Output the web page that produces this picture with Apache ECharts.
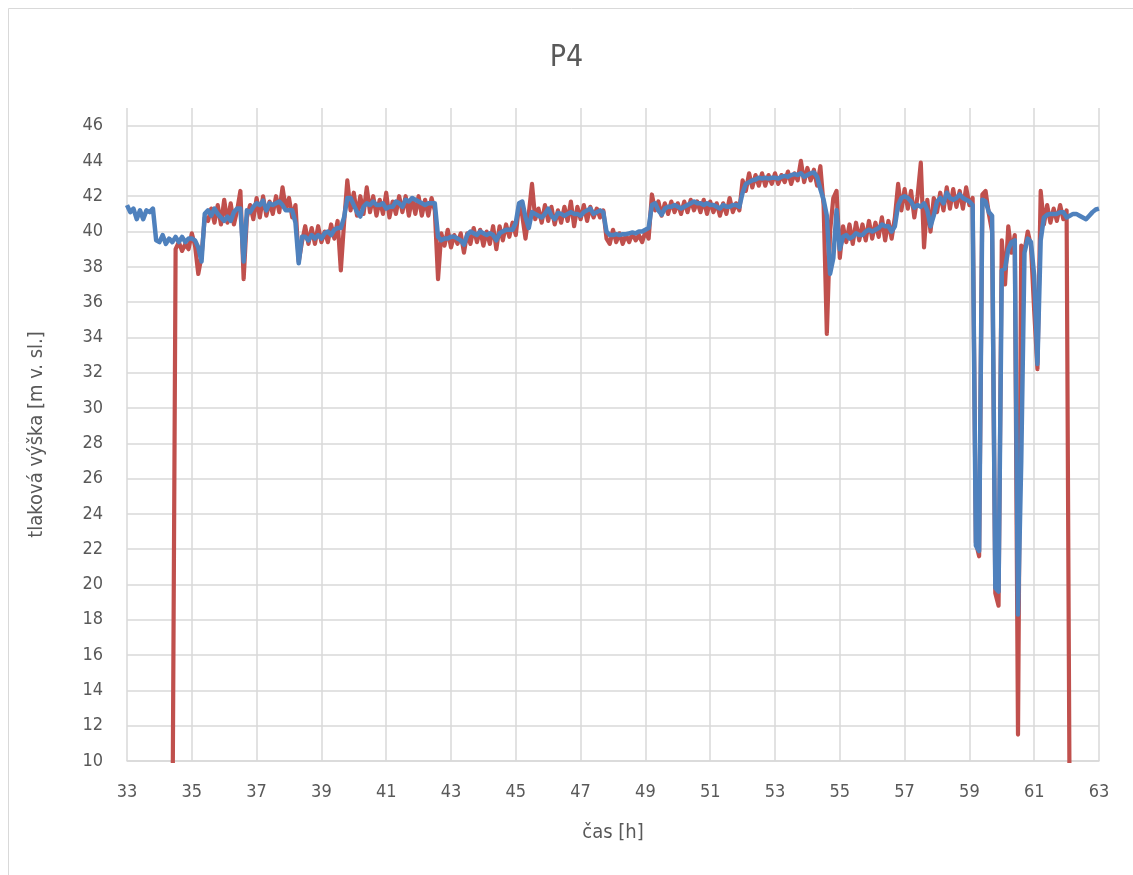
<!DOCTYPE html>
<html><head><meta charset="utf-8">
<script src="https://cdn.jsdelivr.net/npm/echarts@6/dist/echarts.min.js"></script>
<style>html,body{margin:0;padding:0;background:#fff}#c{width:1133px;height:875px}</style>
</head><body><div id="c"></div><script>
const chartTitle = 'P4';
const xAxisName = 'čas [h]';
const yAxisName = 'tlaková výška [m v. sl.]';
const seriesNames = ['měřeno', 'model'];
// sampling: value i belongs to time start + i*0.1 h
const sampleStep = 0.1;
const redStart = 34.4;
const redValues = [
  /*34.4*/ 5, 39.0, 39.4, 38.9, 39.3, 39.0,
  /*35*/ 39.9, 39.2, 37.6, 38.6, 40.8, 40.6, 41.3, 40.5, 41.5, 40.4,
  /*36*/ 41.8, 40.5, 41.6, 40.4, 41.2, 42.3, 37.3, 40.8, 41.5, 40.7,
  /*37*/ 41.9, 40.8, 42.0, 40.9, 41.7, 41.0, 42.0, 41.1, 42.5, 41.3,
  /*38*/ 41.9, 40.8, 41.5, 38.3, 39.4, 40.3, 39.3, 40.2, 39.3, 40.3,
  /*39*/ 39.4, 40.0, 39.4, 40.4, 39.6, 40.6, 37.8, 40.5, 42.9, 41.2,
  /*40*/ 42.2, 40.9, 42.0, 41.0, 42.5, 41.1, 42.0, 40.9, 41.8, 41.0,
  /*41*/ 42.2, 40.8, 41.7, 41.0, 42.0, 41.1, 42.0, 40.9, 41.9, 41.0,
  /*42*/ 42.0, 40.9, 41.8, 40.9, 41.9, 41.2, 37.3, 39.9, 39.2, 40.1,
  /*43*/ 39.1, 39.8, 39.3, 39.9, 38.8, 39.9, 39.3, 40.2, 39.4, 40.1,
  /*44*/ 39.2, 40.0, 39.3, 40.3, 39.0, 40.3, 39.5, 40.4, 39.7, 40.5,
  /*45*/ 39.8, 41.5, 40.9, 39.6, 41.0, 42.7, 40.7, 41.3, 40.5, 41.5,
  /*46*/ 40.6, 41.4, 40.4, 41.2, 40.5, 41.4, 40.6, 41.7, 40.3, 41.4,
  /*47*/ 40.7, 41.5, 40.6, 41.4, 40.8, 41.3, 40.8, 41.2, 39.6, 39.3,
  /*48*/ 40.1, 39.4, 39.9, 39.3, 39.8, 39.4, 39.9, 39.5, 39.8, 39.4,
  /*49*/ 40.0, 39.6, 42.1, 41.2, 41.7, 40.9, 41.6, 41.0, 41.7, 41.1,
  /*50*/ 41.6, 41.0, 41.7, 41.1, 41.8, 41.2, 41.7, 41.1, 41.8, 41.0,
  /*51*/ 41.7, 41.1, 41.6, 40.9, 41.6, 41.0, 41.9, 41.1, 41.6, 41.2,
  /*52*/ 42.9, 42.3, 43.3, 42.5, 43.2, 42.6, 43.3, 42.6, 43.2, 42.7,
  /*53*/ 43.3, 42.7, 43.2, 42.8, 43.4, 42.7, 43.3, 42.9, 44.0, 42.8,
  /*54*/ 43.6, 42.9, 43.5, 42.6, 43.7, 41.5, 34.2, 40.0, 41.9, 42.3,
  /*55*/ 38.5, 40.3, 39.4, 40.4, 39.3, 40.5, 39.5, 40.4, 39.5, 40.6,
  /*56*/ 39.6, 40.5, 39.7, 40.8, 39.5, 40.6, 39.6, 40.8, 42.7, 41.2,
  /*57*/ 42.4, 41.3, 42.3, 40.8, 42.0, 43.9, 39.1, 41.8, 40.0, 41.9,
  /*58*/ 41.1, 42.2, 41.2, 42.5, 41.3, 42.4, 41.4, 42.3, 41.3, 42.5,
  /*59*/ 41.5, 41.9, 22.4, 21.6, 42.1, 42.3, 41.0, 40.0, 19.5, 18.8,
  /*60*/ 39.5, 37.0, 40.3, 38.8, 39.8, 11.5, 39.2, 38.9, 40.0, 39.2,
  /*61*/ 35.5, 32.2, 42.3, 40.4, 41.5, 40.5, 41.3, 40.6, 41.5, 40.7,
  /*62*/ 41.2, 5
];
const blueStart = 33.0;
const blueValues = [
  /*33*/ 41.5, 41.1, 41.3, 40.7, 41.2, 40.7, 41.2, 41.1, 41.3, 39.5,
  /*34*/ 39.4, 39.8, 39.3, 39.6, 39.4, 39.7, 39.4, 39.7, 39.4, 39.6,
  /*35*/ 39.6, 39.5, 39.1, 38.3, 41.0, 41.2, 40.9, 41.3, 41.0, 40.8,
  /*36*/ 40.6, 40.85, 40.6, 41.1, 41.3, 41.3, 38.3, 41.2, 41.1, 41.4,
  /*37*/ 41.6, 41.5, 41.75, 41.2, 41.6, 41.5, 41.6, 41.7, 41.5, 41.2,
  /*38*/ 41.2, 41.2, 40.5, 38.2, 39.7, 39.7, 39.5, 39.8, 39.6, 39.8,
  /*39*/ 39.6, 39.9, 40.0, 39.8, 40.1, 40.2, 40.2, 40.8, 41.9, 41.9,
  /*40*/ 41.5, 41.1, 40.85, 41.4, 41.6, 41.5, 41.7, 41.5, 41.5, 41.6,
  /*41*/ 41.3, 41.4, 41.4, 41.7, 41.6, 41.4, 41.8, 41.7, 41.9, 41.8,
  /*42*/ 41.7, 41.6, 41.5, 41.6, 41.6, 41.6, 39.7, 39.5, 39.6, 39.6,
  /*43*/ 39.7, 39.7, 39.6, 39.5, 39.25, 39.8, 40.0, 39.9, 39.8, 40.0,
  /*44*/ 39.9, 39.8, 39.9, 39.8, 39.5, 39.9, 40.0, 40.1, 40.1, 40.1,
  /*45*/ 40.5, 41.6, 41.7, 40.8, 40.2, 41.1, 41.0, 40.9, 40.8, 41.0,
  /*46*/ 41.3, 40.9, 40.7, 41.05, 41.0, 40.9, 41.0, 41.1, 41.0, 41.0,
  /*47*/ 40.9, 41.1, 41.2, 41.3, 41.0, 41.1, 41.2, 41.1, 40.0, 39.8,
  /*48*/ 39.8, 39.85, 39.8, 39.85, 39.85, 39.9, 39.95, 39.9, 40.0, 40.0,
  /*49*/ 40.1, 40.2, 41.5, 41.6, 41.2, 40.95, 41.3, 41.4, 41.4, 41.5,
  /*50*/ 41.4, 41.3, 41.4, 41.5, 41.6, 41.7, 41.6, 41.6, 41.5, 41.6,
  /*51*/ 41.5, 41.5, 41.4, 41.3, 41.5, 41.4, 41.4, 41.5, 41.5, 41.4,
  /*52*/ 42.2, 42.7, 42.8, 42.9, 42.95, 43.05, 43.0, 43.05, 43.0, 43.05,
  /*53*/ 43.05, 43.0, 43.1, 43.15, 43.1, 43.2, 43.25, 43.2, 43.3, 43.1,
  /*54*/ 43.2, 43.3, 43.35, 43.1, 42.4, 41.8, 40.9, 37.6, 38.5, 41.2,
  /*55*/ 39.0, 39.7, 39.8, 39.6, 39.7, 39.9, 39.8, 39.8, 40.0, 40.1,
  /*56*/ 40.0, 40.1, 40.2, 40.4, 40.3, 40.3, 40.0, 40.3, 41.5, 41.9,
  /*57*/ 42.0, 41.9, 41.7, 41.35, 41.5, 41.4, 41.6, 41.2, 40.3, 40.9,
  /*58*/ 41.7, 41.9, 41.6, 42.2, 41.9, 41.8, 41.9, 42.1, 41.9, 41.8,
  /*59*/ 41.7, 41.5, 22.2, 21.9, 41.8, 41.7, 41.1, 40.9, 19.8, 19.6,
  /*60*/ 37.8, 37.9, 39.0, 39.4, 39.5, 18.3, 27.0, 38.8, 39.6, 39.4,
  /*61*/ 37.5, 32.5, 39.5, 40.8, 40.95, 41.0, 41.0, 41.0, 41.1, 41.1,
  /*62*/ 40.8, 40.9, 41.0, 41.0, 40.9, 40.8, 40.7, 40.9, 41.1, 41.25,
  /*63*/ 41.3
];
const xMin = 33, xMax = 63, xStep = 2;
const yMin = 10, yMax = 47, yStep = 2;

function toPairs(start, vals) {
  return vals.map((v, i) => [Math.round((start + i * sampleStep) * 100) / 100, v]);
}

const font = "'DejaVu Sans Condensed', sans-serif";
const txt = '#595959';
const chart = echarts.init(document.getElementById('c'), null, {renderer: 'canvas'});
chart.setOption({
  animation: false,
  backgroundColor: '#fff',
  title: {
    text: chartTitle, left: 'center', top: 38,
    textStyle: {fontFamily: font, fontSize: 30, fontWeight: 'normal', color: txt}
  },
  graphic: [{
    type: 'rect', z: -1, silent: true,
    shape: {x: 8.5, y: 8.5, width: 1200, height: 1000},
    style: {fill: 'none', stroke: '#D9D9D9', lineWidth: 1}
  }],
  grid: {left: 127, right: 34, top: 108, bottom: 114, containLabel: false},
  xAxis: {
    type: 'value', min: xMin, max: xMax, interval: xStep,
    name: xAxisName, nameLocation: 'middle', nameGap: 62,
    nameTextStyle: {fontFamily: font, fontSize: 20, color: txt},
    axisLine: {show: true, lineStyle: {color: '#D9D9D9', width: 1.5}},
    axisTick: {show: false},
    axisLabel: {fontFamily: font, fontSize: 18, color: txt, margin: 22},
    splitLine: {show: true, lineStyle: {color: '#D9D9D9', width: 1.5}}
  },
  yAxis: {
    type: 'value', min: yMin, max: yMax, interval: yStep,
    name: yAxisName, nameLocation: 'middle', nameGap: 80, nameRotate: 90,
    nameTextStyle: {fontFamily: font, fontSize: 20, color: txt},
    axisLine: {show: false},
    axisTick: {show: false},
    axisLabel: {fontFamily: font, fontSize: 18, color: txt, margin: 24, showMaxLabel: false},
    splitLine: {show: true, showMaxLine: false, lineStyle: {color: '#D9D9D9', width: 1.5}}
  },
  series: [
    {
      name: seriesNames[0], type: 'line', data: toPairs(redStart, redValues),
      showSymbol: false, symbol: 'none', clip: true,
      lineStyle: {color: '#C0504D', width: 4.2, join: 'round'}, z: 2
    },
    {
      name: seriesNames[1], type: 'line', data: toPairs(blueStart, blueValues),
      showSymbol: false, symbol: 'none', clip: true,
      lineStyle: {color: '#4F81BD', width: 4.5, join: 'round'}, z: 3
    }
  ]
});
</script></body></html>
